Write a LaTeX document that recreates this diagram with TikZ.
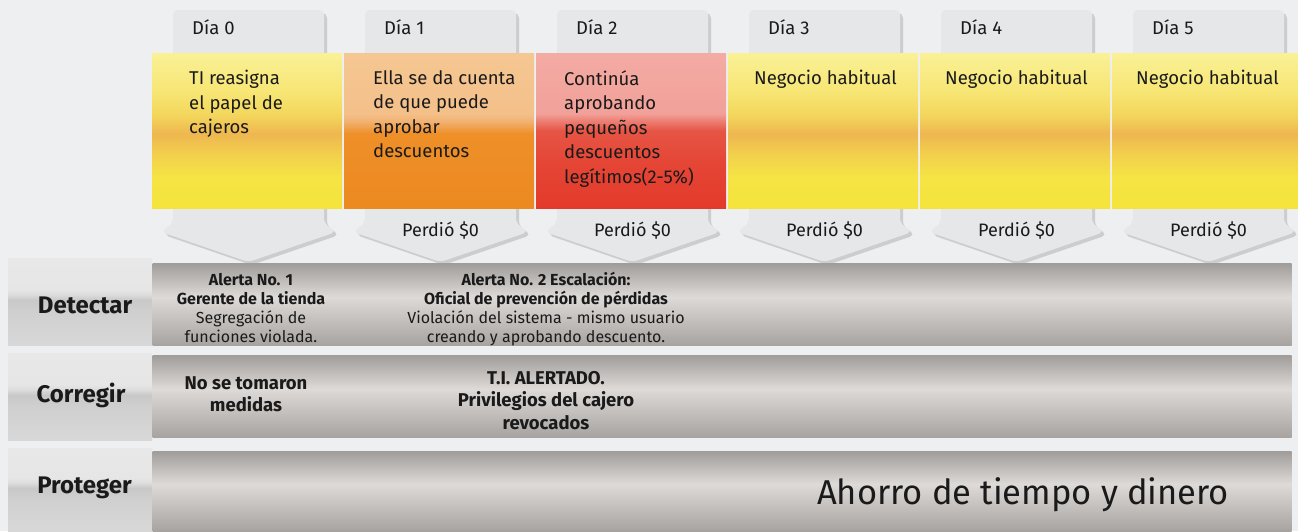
\documentclass[tikz,border=0pt]{standalone}
\usepackage{fontspec}
\setmainfont{Fira Sans}
\usetikzlibrary{positioning, shadows}

\definecolor{bgpage}{HTML}{EEEFF1}
\definecolor{arrowgray}{HTML}{E6E7E9}
\definecolor{inktext}{HTML}{1A1A1A}
% band colours
\definecolor{ya}{HTML}{F4E43A}\definecolor{yb}{HTML}{F5E444}\definecolor{yc}{HTML}{F2CF4C}
\definecolor{yd}{HTML}{EEB750}\definecolor{ye}{HTML}{F3D65C}\definecolor{yf}{HTML}{F7E674}
\definecolor{yg}{HTML}{FAF197}
\definecolor{oa}{HTML}{EC8A20}\definecolor{ob}{HTML}{EE8F28}\definecolor{oc}{HTML}{F2B272}
\definecolor{od}{HTML}{F4C08A}\definecolor{oe}{HTML}{F5C792}
\definecolor{ra}{HTML}{E33A2B}\definecolor{rb}{HTML}{E54636}\definecolor{rc}{HTML}{E65545}
\definecolor{rd}{HTML}{EC7E72}\definecolor{re}{HTML}{F1A199}\definecolor{rf}{HTML}{F3ABA3}
% bar and cell colours
\definecolor{ga}{HTML}{A7A3A1}\definecolor{gb}{HTML}{DEDAD7}\definecolor{gc}{HTML}{A09C9A}
\definecolor{ca}{HTML}{D8D8D8}\definecolor{cb}{HTML}{CFCFCF}\definecolor{cc}{HTML}{C8C8C8}
\definecolor{cd}{HTML}{DCDCDC}\definecolor{ce}{HTML}{E6E6E6}\definecolor{cf}{HTML}{E8E8E8}

\pgfdeclareverticalshading{bandyellow}{100bp}{color(0bp)=(ya); color(25bp)=(ya); color(35bp)=(yb);
  color(42.5bp)=(yc); color(49bp)=(yd); color(55bp)=(ye); color(62.5bp)=(yf); color(75bp)=(yg); color(100bp)=(yg)}
\pgfdeclareverticalshading{bandorange}{100bp}{color(0bp)=(oa); color(25bp)=(oa); color(49bp)=(ob);
  color(53bp)=(oc); color(55.5bp)=(od); color(75bp)=(oe); color(100bp)=(oe)}
\pgfdeclareverticalshading{bandred}{100bp}{color(0bp)=(ra); color(25bp)=(ra); color(40bp)=(rb);
  color(50bp)=(rc); color(53bp)=(rd); color(55.5bp)=(re); color(75bp)=(rf); color(100bp)=(rf)}
\pgfdeclareverticalshading{bargray}{100bp}{color(0bp)=(ga); color(25bp)=(ga); color(54.5bp)=(gb);
  color(75bp)=(gc); color(100bp)=(gc)}
\pgfdeclareverticalshading{cellgray}{100bp}{color(0bp)=(ca); color(25bp)=(ca); color(45bp)=(cb);
  color(51bp)=(cc); color(54bp)=(cd); color(57bp)=(ce); color(75bp)=(cf); color(100bp)=(cf)}

\begin{document}
\begin{tikzpicture}[x=1pt, y=-1pt,
    every node/.style={inner sep=0pt, text=inktext},
    dayarrow/.style={fill=arrowgray, rounded corners=5pt,
        drop shadow={shadow xshift=3pt, shadow yshift=-3pt, opacity=0.3}},
    daylabel/.style={anchor=base west, font=\fontsize{18.5}{20}\selectfont},
    bandtext/.style={anchor=north west, align=left, font=\fontsize{18.5}{24.5}\selectfont},
    losttext/.style={font=\fontsize{18}{20}\selectfont},
    rowcell/.style={shade, shading=cellgray, anchor=north west, minimum width=144pt},
    rowbar/.style={shade, shading=bargray, anchor=south west, minimum width=1139pt},
    rowlabel/.style={anchor=base, font=\bfseries\fontsize{24}{26}\selectfont},
    alerttext/.style={align=center, font=\fontsize{16}{19}\selectfont},
    actiontext/.style={align=center, font=\bfseries\fontsize{18.5}{22.5}\selectfont}]

% Page background
\fill[bgpage] (0,0) rectangle (1298,531);
\useasboundingbox (0,0) rectangle (1298,531);

% Day arrows
\foreach \i in {0,...,5} {
    \begin{scope}[xshift=192*\i]
        \fill[dayarrow] (173,223) -- (173,10) -- (324,10) -- (324,223) -- (336,232) -- (248.5,262) -- (161,232) -- cycle;
    \end{scope}
}

% Day labels
\foreach \i in {0,...,5}
    \node[daylabel] (day\i) at (192+192*\i, 34) {Día \i};

% Coloured bands across the arrows
\foreach \i/\shd in {0/bandyellow, 1/bandorange, 2/bandred, 3/bandyellow, 4/bandyellow, 5/bandyellow}
    \shade[shading=\shd] (152+192*\i, 53) rectangle ++(190, 155);

% Band texts
\foreach \i/\dx/\txt in {0/37/{TI reasigna\\el papel de\\cajeros},
        1/29/{Ella se da cuenta\\de que puede\\aprobar\\descuentos},
        2/28/{Continúa\\aprobando\\pequeños\\descuentos\\legítimos(2-5\%)},
        3/26/{Negocio habitual}, 4/25/{Negocio habitual}, 5/24/{Negocio habitual}}
    \node[bandtext] (note\i) at (152+192*\i+\dx, 70) {\txt};

% Losses
\foreach \i in {1,...,5}
    \node[losttext] (lost\i) at (248.5+192*\i, 230) {Perdió \$0};

% Rows: label cells and bars
\node[rowcell, minimum height=87pt] (detcell) at (8,258) {};
\node[rowcell, minimum height=87pt] (corcell) at (8,353) {};
\node[rowcell, minimum height=83pt] (procell) at (8,448) {};
\node[rowbar, minimum height=82pt] (detbar) at (detcell.south east) {};
\node[rowbar, minimum height=82pt] (corbar) at ([yshift=3pt]corcell.south east) {};
\node[rowbar, minimum height=80pt] (probar) at (procell.south east) {};

\node[rowlabel] (detlabel) at (85,313) {Detectar};
\node[rowlabel] (corlabel) at (81,402) {Corregir};
\node[rowlabel] (prolabel) at (84.5,493) {Proteger};

% Detect row
\node[alerttext] (alert1) at (251,308) {\textbf{Alerta No. 1}\\\textbf{Gerente de la tienda}\\Segregación de\\funciones violada.};
\node[alerttext] (alert2) at (546,309) {\textbf{Alerta No. 2 Escalación:}\\\textbf{Oficial de prevención de pérdidas}\\Violación del sistema - mismo usuario\\creando y aprobando descuento.};

% Correct row
\node[actiontext] (action1) at (246,394) {No se tomaron\\medidas};
\node[actiontext] (action2) at (546,400.5) {T.I. ALERTADO.\\Privilegios del cajero\\revocados};

% Protect row
\node[anchor=base, font=\fontsize{34.5}{38}\selectfont] (saving) at (1023,504) {Ahorro de tiempo y dinero};
\end{tikzpicture}
\end{document}
